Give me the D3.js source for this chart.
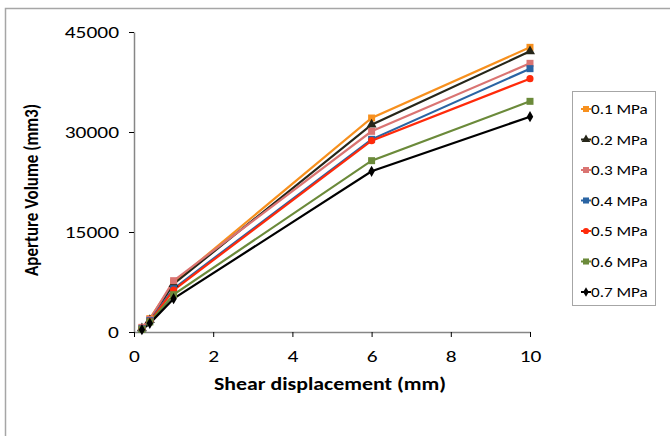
<!DOCTYPE html>
<html>
<head>
<meta charset="utf-8">
<script src="https://cdn.jsdelivr.net/npm/d3@7"></script>
<style>
  body { margin: 0; background: #fff; }
  text { font-family: Carlito, Calibri, Lato, sans-serif; }
</style>
</head>
<body>
<div id="chart"></div>
<script>
// shear displacement (mm)
const displacement = [0.2, 0.4, 1, 6, 10];
const seriesNames = ["0.1 MPa", "0.2 MPa", "0.3 MPa", "0.4 MPa", "0.5 MPa", "0.6 MPa", "0.7 MPa"];
const v01 = [600, 2000, 7400, 32100, 42700];
const v02 = [550, 1800, 7200, 31100, 42100];
const v03 = [700, 1900, 7700, 30100, 40300];
const v04 = [500, 1700, 6500, 28900, 39500];
const v05 = [450, 1600, 6300, 28700, 38000];
const v06 = [400, 1500, 5600, 25700, 34600];
const v07 = [350, 1300, 5000, 24100, 32300];
const yTicks = [0, 15000, 30000, 45000];
const xTicks = [0, 2, 4, 6, 8, 10];

const colors = ["#F7901E", "#262619", "#DA7472", "#2A64A3", "#FF2A0A", "#6B8A3A", "#000000"];
const shapes = ["square", "triangle", "square", "square", "circle", "square", "diamond"];
const allValues = [v01, v02, v03, v04, v05, v06, v07];

const W = 670, H = 436;
const margin = { top: 32, left: 134 };
const plotW = 396, plotH = 300;
const sx = 1.18; // the reference text is a bit wider than tall
const sxTick = 1.3;

const svg = d3.select("#chart").append("svg")
    .attr("width", W).attr("height", H);

// outer chart frame
svg.append("rect")
    .attr("x", 5.5).attr("y", 8.5)
    .attr("width", W + 20).attr("height", H + 20)
    .attr("fill", "none").attr("stroke", "#a6a6a6").attr("stroke-width", 1.5);

const x = d3.scaleLinear().domain([0, 10]).range([0, plotW]);
const y = d3.scaleLinear().domain([0, 45000]).range([plotH, 0]);

const g = svg.append("g").attr("transform", `translate(${margin.left},${margin.top})`);

// axes
const yAxis = g.append("g")
    .call(d3.axisLeft(y).tickValues(yTicks).tickSize(5).tickSizeOuter(0).tickFormat(d3.format("d")));
yAxis.select(".domain").attr("stroke", "#868686").attr("stroke-width", 1.5);
yAxis.selectAll(".tick line").attr("stroke", "#000");
yAxis.selectAll("text")
    .attr("font-size", 16.5).attr("fill", "#000")
    .attr("x", 0).attr("dy", "0.34em")
    .attr("transform", `translate(-15,0) scale(${sxTick},1)`);

const xAxis = g.append("g")
    .attr("transform", `translate(0,${plotH})`)
    .call(d3.axisBottom(x).tickValues(xTicks).tickSize(5).tickSizeOuter(0));
xAxis.select(".domain").attr("stroke", "#868686").attr("stroke-width", 1.5);
xAxis.selectAll(".tick line").attr("stroke", "#000");
xAxis.selectAll("text")
    .attr("font-size", 16.5).attr("fill", "#000")
    .attr("y", 0).attr("dy", 0)
    .attr("transform", `translate(0,30) scale(${sxTick},1)`);

// series
const line = d3.line().x((d, i) => x(displacement[i])).y(d => y(d));
const symbolType = {
    square: d3.symbolSquare,
    triangle: d3.symbolTriangle,
    circle: d3.symbolCircle,
    diamond: d3.symbolDiamond
};
const symbolSize = { square: 49, triangle: 44, circle: 40, diamond: 36 };

allValues.forEach((vals, k) => {
    g.append("path")
        .datum(vals)
        .attr("d", line)
        .attr("fill", "none")
        .attr("stroke", colors[k])
        .attr("stroke-width", 2.2);
});
allValues.forEach((vals, k) => {
    g.selectAll(".pt" + k)
        .data(vals)
        .enter().append("path")
        .attr("transform", (d, i) => `translate(${x(displacement[i])},${y(d)})`)
        .attr("d", d3.symbol().type(symbolType[shapes[k]]).size(symbolSize[shapes[k]]))
        .attr("fill", colors[k]);
});

// axis titles
svg.append("text")
    .attr("transform", `translate(330,390) scale(${sx},1)`)
    .attr("text-anchor", "middle")
    .attr("font-size", 18.5).attr("font-weight", "bold")
    .text("Shear displacement (mm)");

svg.append("text")
    .attr("transform", `translate(38,190) scale(${sx},1) rotate(-90)`)
    .attr("text-anchor", "middle")
    .attr("font-size", 17).attr("font-weight", "bold")
    .text("Aperture Volume (mm3)");

// legend
const legend = svg.append("g").attr("transform", "translate(572,91)");
legend.append("rect")
    .attr("x", 0.5).attr("y", 0.5).attr("width", 83).attr("height", 214)
    .attr("fill", "#fff").attr("stroke", "#a6a6a6");

seriesNames.forEach((name, k) => {
    const ly = 18 + k * 30.5;
    const item = legend.append("g").attr("transform", `translate(0,${ly})`);
    item.append("line")
        .attr("x1", 9).attr("x2", 19).attr("y1", 0).attr("y2", 0)
        .attr("stroke", colors[k]).attr("stroke-width", 2);
    item.append("path")
        .attr("transform", "translate(14,0)")
        .attr("d", d3.symbol().type(symbolType[shapes[k]]).size(symbolSize[shapes[k]] * 0.75))
        .attr("fill", colors[k]);
    item.append("text")
        .attr("transform", `translate(19,5) scale(${sx},1)`)
        .attr("font-size", 14.5).attr("fill", "#000")
        .text(name);
});
</script>
</body>
</html>
